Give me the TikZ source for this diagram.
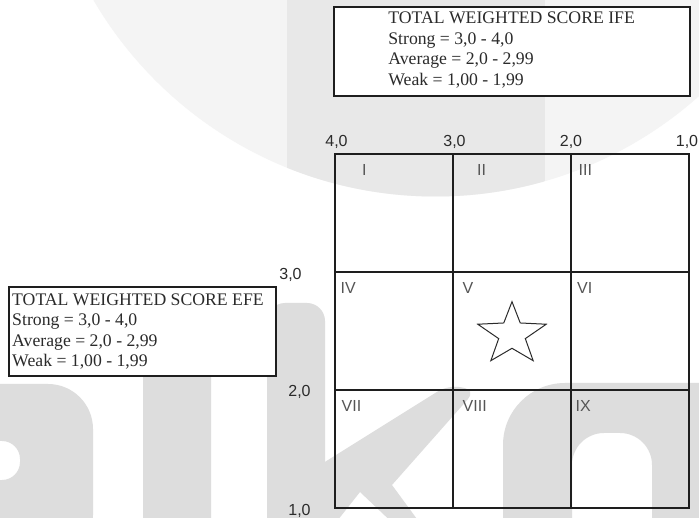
\documentclass[tikz,border=0pt]{standalone}
\usepackage{fontspec}
\setmainfont{Liberation Serif}
\setsansfont{Liberation Sans}
\definecolor{wmlight}{HTML}{F4F4F4}
\definecolor{wmmid}{HTML}{E8E8E8}
\definecolor{wmdark}{HTML}{DDDDDD}
\definecolor{linecol}{HTML}{1E1E1E}
\definecolor{textcol}{HTML}{2B2B2B}
\definecolor{numcol}{HTML}{555555}
\begin{document}
\begin{tikzpicture}[x=1pt, y=-1pt,
    gridline/.style={draw=linecol, line width=1.4pt},
    scorebox/.style={draw=linecol, line width=1.3pt, fill=white, inner sep=0pt},
    scoretext/.style={align=left, inner sep=0pt, text=textcol, font=\fontsize{17.7}{20.5}\selectfont},
    axislabel/.style={inner sep=0pt, anchor=base, text=textcol, font=\sffamily\fontsize{16}{16}\selectfont},
    cellnum/.style={inner sep=0pt, anchor=base west, text=numcol, font=\sffamily\fontsize{16}{16}\selectfont},
    starline/.style={draw=textcol, line width=1pt, line join=miter}]

  \useasboundingbox (0,0) rectangle (699,518);
  \fill[white] (0,0) rectangle (699,518);

  % watermark in the background
  \begin{scope}
    \clip (0,0) rectangle (699,518);
    \fill[wmlight] (435.5,-199.5) circle (396);
    \begin{scope}
      \clip (435.5,-199.5) circle (396);
      \fill[wmmid] (287,0) rectangle (545,220);
    \end{scope}
    % letters
    \fill[wmdark, even odd rule, rounded corners=45] (-100,384) rectangle (93,560)
      [rounded corners=18] (-60,441) rectangle (20,480);
    \fill[wmdark, rounded corners=14] (143,304) rectangle (211,560);
    \fill[wmdark, rounded corners=18] (267,303) rectangle (325,560);
    \fill[wmdark] (320,465) [rounded corners=12] -- (448,385) -- (476,390) [sharp corners]
      -- (392,485) -- (425,530) -- (400,530) -- (360,492) -- (330,530) -- (320,530) -- cycle;
    \fill[wmdark, even odd rule] (503,560) [rounded corners=62] -- (503,383) [sharp corners]
      -- (760,383) -- (760,560) -- cycle
      (572,560) [rounded corners=32] -- (572,433) -- (652,433) [sharp corners] -- (652,560) -- cycle;
  \end{scope}

  % IFE and EFE boxes
  \node[scorebox, minimum width=356, minimum height=89] (ifebox) at (512,51.5) {};
  \node[scoretext, anchor=west] (ifetext) at ([xshift=54.8pt, yshift=1.5pt]ifebox.west)
    {TOTAL WEIGHTED SCORE IFE\\ Strong = 3,0 - 4,0\\ Average = 2,0 - 2,99\\ Weak = 1,00 - 1,99};
  \node[scorebox, minimum width=267, minimum height=89] (efebox) at (142.5,331.5) {};
  \node[scoretext, anchor=west] (efetext) at ([xshift=3.7pt]efebox.west)
    {TOTAL WEIGHTED SCORE EFE\\ Strong = 3,0 - 4,0\\ Average = 2,0 - 2,99\\ Weak = 1,00 - 1,99};

  % matrix
  \draw[gridline] (335,154) rectangle (689,508);
  \foreach \x in {453,571}
    \draw[gridline] (\x,154) -- (\x,508);
  \foreach \y in {272,390}
    \draw[gridline] (335,\y) -- (689,\y);

  % axis values
  \foreach \v/\x in {4/336.5, 3/454.5, 2/571, 1/687}
    \node[axislabel] (top-\v) at (\x,146.7) {\v,0};
  \foreach \v/\x/\y in {3/290.5/280, 2/299.5/397, 1/299.5/515}
    \node[axislabel] (left-\v) at (\x,\y) {\v,0};

  % cell numbers
  \foreach \lab/\x/\y in {I/362/175.5, II/477/175.5, III/578.5/175.5,
                          IV/340.5/293.5, V/462.5/293.5, VI/577/293.5,
                          VII/341.5/411.7, VIII/462.5/411.7, IX/575.5/411.7}
    \node[cellnum] (cell-\lab) at (\x,\y) {\lab};

  % position of the company
  \begin{scope}[shift={(512,334.3)}]
    \draw[starline] (-90:36 and 32.6) \foreach \a in {-90,-18,54,126} { -- (\a+36:14) -- (\a+72:36 and 32.6) }
      -- (234:14) -- cycle;
  \end{scope}

\end{tikzpicture}
\end{document}
